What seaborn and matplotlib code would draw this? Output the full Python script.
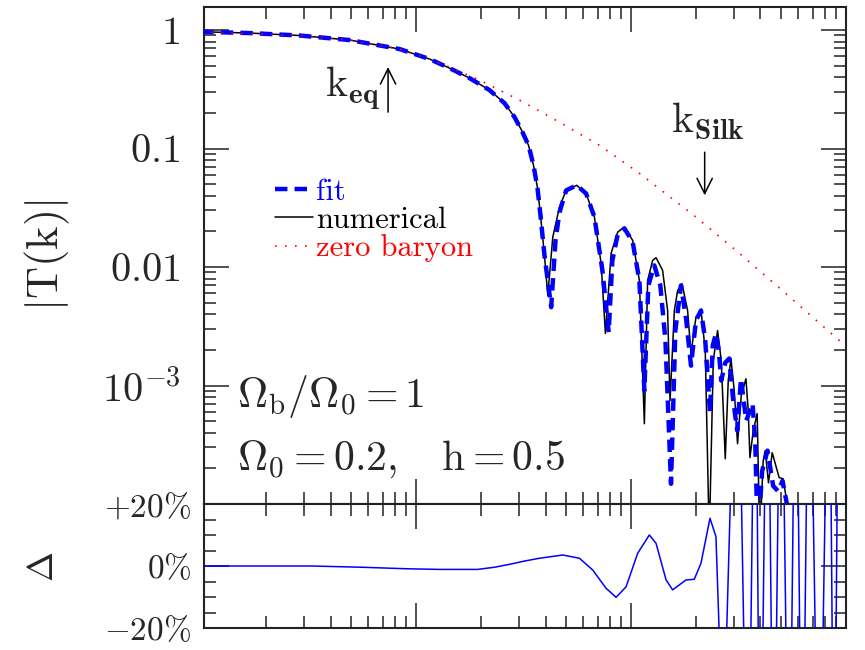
import matplotlib
matplotlib.use("Agg")
import matplotlib.pyplot as plt
import seaborn as sns
import pandas as pd
from matplotlib.ticker import LogLocator, NullFormatter, MultipleLocator
from matplotlib.lines import Line2D

# ---------------- data ----------------
k_num = [0.001, 0.001684, 0.002874, 0.004909, 0.008383, 0.01155, 0.01431, 0.01772, 0.02195, 0.02577,
         0.02869, 0.03093, 0.03332, 0.03516, 0.03670, 0.03789, 0.03954, 0.04097, 0.04322, 0.04643,
         0.04989, 0.05587, 0.06179, 0.06752, 0.07254, 0.07596, 0.08073, 0.08664, 0.09309, 0.1017,
         0.1093, 0.1153, 0.1194, 0.1260, 0.1307, 0.1402, 0.1479, 0.1518, 0.1590, 0.1647,
         0.1726, 0.1832, 0.1900, 0.2004, 0.2115, 0.2214, 0.2311, 0.2412, 0.2526, 0.2628,
         0.2743, 0.2832, 0.2915, 0.3020, 0.3129, 0.3255, 0.3423, 0.3508, 0.3573, 0.3701,
         0.3862, 0.3967, 0.4119, 0.4208, 0.4359, 0.4535, 0.4887, 0.5101, 0.5324, 0.574]
T_num = [0.967, 0.943, 0.899, 0.823, 0.691, 0.569, 0.477, 0.393, 0.311, 0.2415,
         0.184, 0.1428, 0.1066, 0.0722, 0.0462, 0.0273, 0.01253, 0.00575, 0.01789, 0.03209,
         0.0444, 0.04895, 0.04165, 0.02641, 0.01072, 0.00275, 0.01303, 0.01972, 0.02174, 0.01679,
         0.0077, 0.000476, 0.0077, 0.01137, 0.01199, 0.00936, 0.0043, 0.000746, 0.0043, 0.00634,
         0.00722, 0.0043, 0.00186, 0.00377, 0.0043, 0.00197, 5e-5, 0.00162, 0.00291, 0.00162,
         0.000241, 0.0011, 0.00169, 0.000906, 0.000323, 0.000822, 0.00114, 0.000613, 0.000246, 0.000416,
         0.000579, 5e-5, 0.000232, 0.000282, 0.000151, 0.000271, 0.000167, 0.000163, 0.0001, 5e-5]

k_fit = [0.001, 0.001684, 0.002874, 0.004909, 0.008383, 0.01155, 0.01431, 0.01772, 0.02195, 0.02577,
         0.02869, 0.03093, 0.03332, 0.03516, 0.03670, 0.03789, 0.03954, 0.04249, 0.04450, 0.04643,
         0.04989, 0.05587, 0.06179, 0.06752, 0.07355, 0.07866, 0.08185, 0.08664, 0.09309, 0.1017,
         0.1093, 0.1153, 0.1203, 0.1283, 0.1368, 0.1445, 0.1534, 0.1607, 0.1707, 0.1807,
         0.1900, 0.2004, 0.2115, 0.2214, 0.2329, 0.2399, 0.2482, 0.2559, 0.2628, 0.2743,
         0.2863, 0.2988, 0.3119, 0.3245, 0.3343, 0.3434, 0.3674, 0.3781, 0.3882, 0.4074,
         0.4313, 0.4583, 0.4835, 0.5064, 0.5324, 0.55]
T_fit = [0.967, 0.943, 0.899, 0.823, 0.691, 0.569, 0.477, 0.393, 0.311, 0.2415,
         0.184, 0.1428, 0.1066, 0.0722, 0.0462, 0.0273, 0.01253, 0.00458, 0.01679, 0.02894,
         0.0444, 0.04895, 0.04165, 0.0264, 0.00936, 0.00282, 0.01137, 0.01886, 0.0212, 0.0163,
         0.0077, 0.000906, 0.00699, 0.01032, 0.00699, 0.0024, 0.000148, 0.00291, 0.00699, 0.00354,
         0.00147, 0.00354, 0.0043, 0.0024, 0.00059, 0.00217, 0.00275, 0.00197, 0.0011, 0.00156,
         0.00169, 0.000746, 0.000416, 0.00114, 0.000746, 0.000505, 0.000703, 0.000342, 5e-5, 0.000191,
         0.000282, 0.000142, 0.000128, 0.000157, 9.7e-5, 5e-5]

k_zb = [0.001, 0.002874, 0.004909, 0.008383, 0.01155, 0.01431, 0.01973, 0.03027, 0.04643, 0.07123,
        0.1093, 0.2004, 0.3076, 0.5048, 0.990]
T_zb = [0.967, 0.899, 0.823, 0.691, 0.569, 0.4868, 0.3779, 0.256, 0.1668, 0.1066,
        0.06183, 0.02641, 0.01381, 0.006342, 0.002174]

k_dev = [0.001, 0.00326, 0.005563, 0.00913, 0.01286, 0.0193, 0.02316, 0.02769, 0.03193, 0.03749,
         0.0481, 0.05751, 0.06631, 0.07652, 0.08518, 0.0948, 0.1073, 0.1216, 0.1307, 0.1455,
         0.1561, 0.1677, 0.1801, 0.1968, 0.2115, 0.2329, 0.2482, 0.2685, 0.3119, 0.3498,
         0.3789, 0.3981, 0.4313, 0.4609, 0.4977, 0.5439, 0.5843, 0.6252, 0.6739, 0.7499,
         0.8346, 0.8806, 0.9288]
dev = [0.0, 0.0, -0.004, -0.009, -0.011, -0.011, -0.004, 0.0065, 0.016, 0.025,
       0.0355, 0.025, -0.013, -0.072, -0.101, -0.067, 0.041, 0.100, 0.073, -0.045,
       -0.077, -0.061, -0.045, -0.043, 0.009, 0.154, 0.095, -0.6, 1.0, -1.0,
       1.0, -1.0, 1.0, -1.0, 1.0, -1.0, 1.0, -1.0, 1.0, -1.0,
       1.0, -1.0, 1.0]

legend_labels = ["fit", "numerical", "zero baryon"]
ytick_vals = [1e-4, 1e-3, 1e-2, 1e-1, 1.0]
ytick_labels = ["", r"$10^{-3}$", r"$0.01$", r"$0.1$", r"$1$"]
dtick_vals = [-0.2, 0.0, 0.2]
dtick_labels = [r"$-20\%$", r"$0\%$", r"$+20\%$"]
K_EQ = 7.4e-3
K_SILK = 0.22
XLIM = (1.03e-3, 1.0)
YLIM = (1e-4, 1.565)

# ---------------- style ----------------
sns.set_theme(style="ticks")
plt.rcParams["font.family"] = ["cmr10", "DejaVu Serif"]
plt.rcParams["mathtext.fontset"] = "cm"
plt.rcParams["axes.unicode_minus"] = False
plt.rcParams["axes.formatter.use_mathtext"] = True

BLUE = "#0000ff"
RED = "#ff0000"
SPINE = "#222222"

fig = plt.figure(figsize=(8.65, 6.5), dpi=100)
fig.patch.set_facecolor("white")
W, H = 865.0, 650.0
ax = fig.add_axes([204 / W, 1 - 504 / H, 642 / W, 497 / H])
ax2 = fig.add_axes([204 / W, 1 - 628 / H, 642 / W, 124 / H])

num_df = pd.DataFrame({"k": k_num, "T": T_num})
fit_df = pd.DataFrame({"k": k_fit, "T": T_fit})
zb_df = pd.DataFrame({"k": k_zb, "T": T_zb})
dev_df = pd.DataFrame({"k": k_dev, "d": dev})

num_ls = "-"
fit_ls = (0, (2.8, 1.6))
zb_ls = (0, (1.0, 5.0))

sns.lineplot(data=num_df, x="k", y="T", ax=ax, color="black", linewidth=1.1,
             linestyle=num_ls, estimator=None, sort=False, zorder=2)
sns.lineplot(data=fit_df, x="k", y="T", ax=ax, color=BLUE, linewidth=3.2,
             linestyle=fit_ls, estimator=None, sort=False, zorder=3)
sns.lineplot(data=zb_df, x="k", y="T", ax=ax, color=RED, linewidth=1.2,
             linestyle=zb_ls, estimator=None, sort=False, zorder=4)
sns.lineplot(data=dev_df, x="k", y="d", ax=ax2, color=BLUE, linewidth=1.1,
             estimator=None, sort=False, zorder=3)

for a in (ax, ax2):
    a.set_xscale("log")
    a.set_xlim(*XLIM)
    a.set_xlabel("")
    a.xaxis.set_major_locator(LogLocator(base=10, numticks=20))
    a.xaxis.set_minor_locator(LogLocator(base=10, subs=(2, 3, 4, 5, 6, 7, 8, 9), numticks=50))
    a.xaxis.set_minor_formatter(NullFormatter())
    for s in a.spines.values():
        s.set_linewidth(1.5)
        s.set_color(SPINE)
    a.tick_params(which="both", direction="in", top=True, bottom=True, left=True, right=True,
                  labelbottom=False, labeltop=False, labelright=False, color=SPINE, width=1.1)
    a.tick_params(which="major", length=18)
    a.tick_params(which="minor", length=8.5)
    a.set_facecolor("white")

ax.set_yscale("log")
ax.set_ylim(*YLIM)
ax.set_yticks(ytick_vals, ytick_labels)
ax.yaxis.set_minor_locator(LogLocator(base=10, subs=(2, 3, 4, 5, 6, 7, 8, 9), numticks=50))
ax.yaxis.set_minor_formatter(NullFormatter())
ax.tick_params(axis="y", which="major", labelsize=29, pad=17)
ax.set_ylabel(r"$|\mathrm{T(k)}|$", fontsize=32)
ax.yaxis.set_label_coords(-0.2445, 0.5)
ax.yaxis.label.set_va("center")

ax2.set_ylim(-0.2, 0.2)
ax2.set_yticks(dtick_vals, dtick_labels)
ax2.yaxis.set_minor_locator(MultipleLocator(0.05))
ax2.tick_params(axis="y", which="major", labelsize=24, pad=9)
ax2.set_ylabel(r"$\Delta$", fontsize=26)
ax2.yaxis.set_label_coords(-0.249, 0.49)
ax2.yaxis.label.set_va("center")

# legend
handles = [Line2D([], [], color=BLUE, lw=3.2, linestyle=fit_ls),
           Line2D([], [], color="black", lw=1.1, linestyle=num_ls),
           Line2D([], [], color=RED, lw=1.2, linestyle=zb_ls)]
ax.legend(handles, legend_labels, loc="upper left", bbox_to_anchor=(0.1106, 0.655),
          frameon=False, fontsize=22, handlelength=1.25, handletextpad=0.1,
          labelspacing=0.02, borderpad=0, borderaxespad=0, labelcolor="linecolor")

# annotations
arrow = dict(arrowstyle="->,head_length=0.5,head_width=0.25", color="black", lw=1.1,
             mutation_scale=22, shrinkA=0, shrinkB=0)
ax.annotate("", xy=(K_EQ, 0.487), xytext=(K_EQ, 0.203), arrowprops=arrow)
ax.annotate("", xy=(K_SILK, 0.0403), xytext=(K_SILK, 0.0931), arrowprops=arrow)
ax.text(0.1885, 0.8189, r"$\mathrm{k}_{\mathbf{eq}}$", transform=ax.transAxes,
        fontsize=30, ha="left", va="baseline")
ax.text(0.7274, 0.7465, r"$\mathrm{k}_{\mathbf{Silk}}$", transform=ax.transAxes,
        fontsize=30, ha="left", va="baseline")
ax.text(0.0514, 0.1952, r"$\Omega_{\mathrm{b}}/\Omega_{0}=1$", transform=ax.transAxes,
        fontsize=30, ha="left", va="baseline")
ax.text(0.0514, 0.0684, r"$\Omega_{0}=0.2,\ \ \ \mathrm{h}=0.5$", transform=ax.transAxes,
        fontsize=30, ha="left", va="baseline")

fig.savefig("out.png", dpi=100, facecolor="white")
